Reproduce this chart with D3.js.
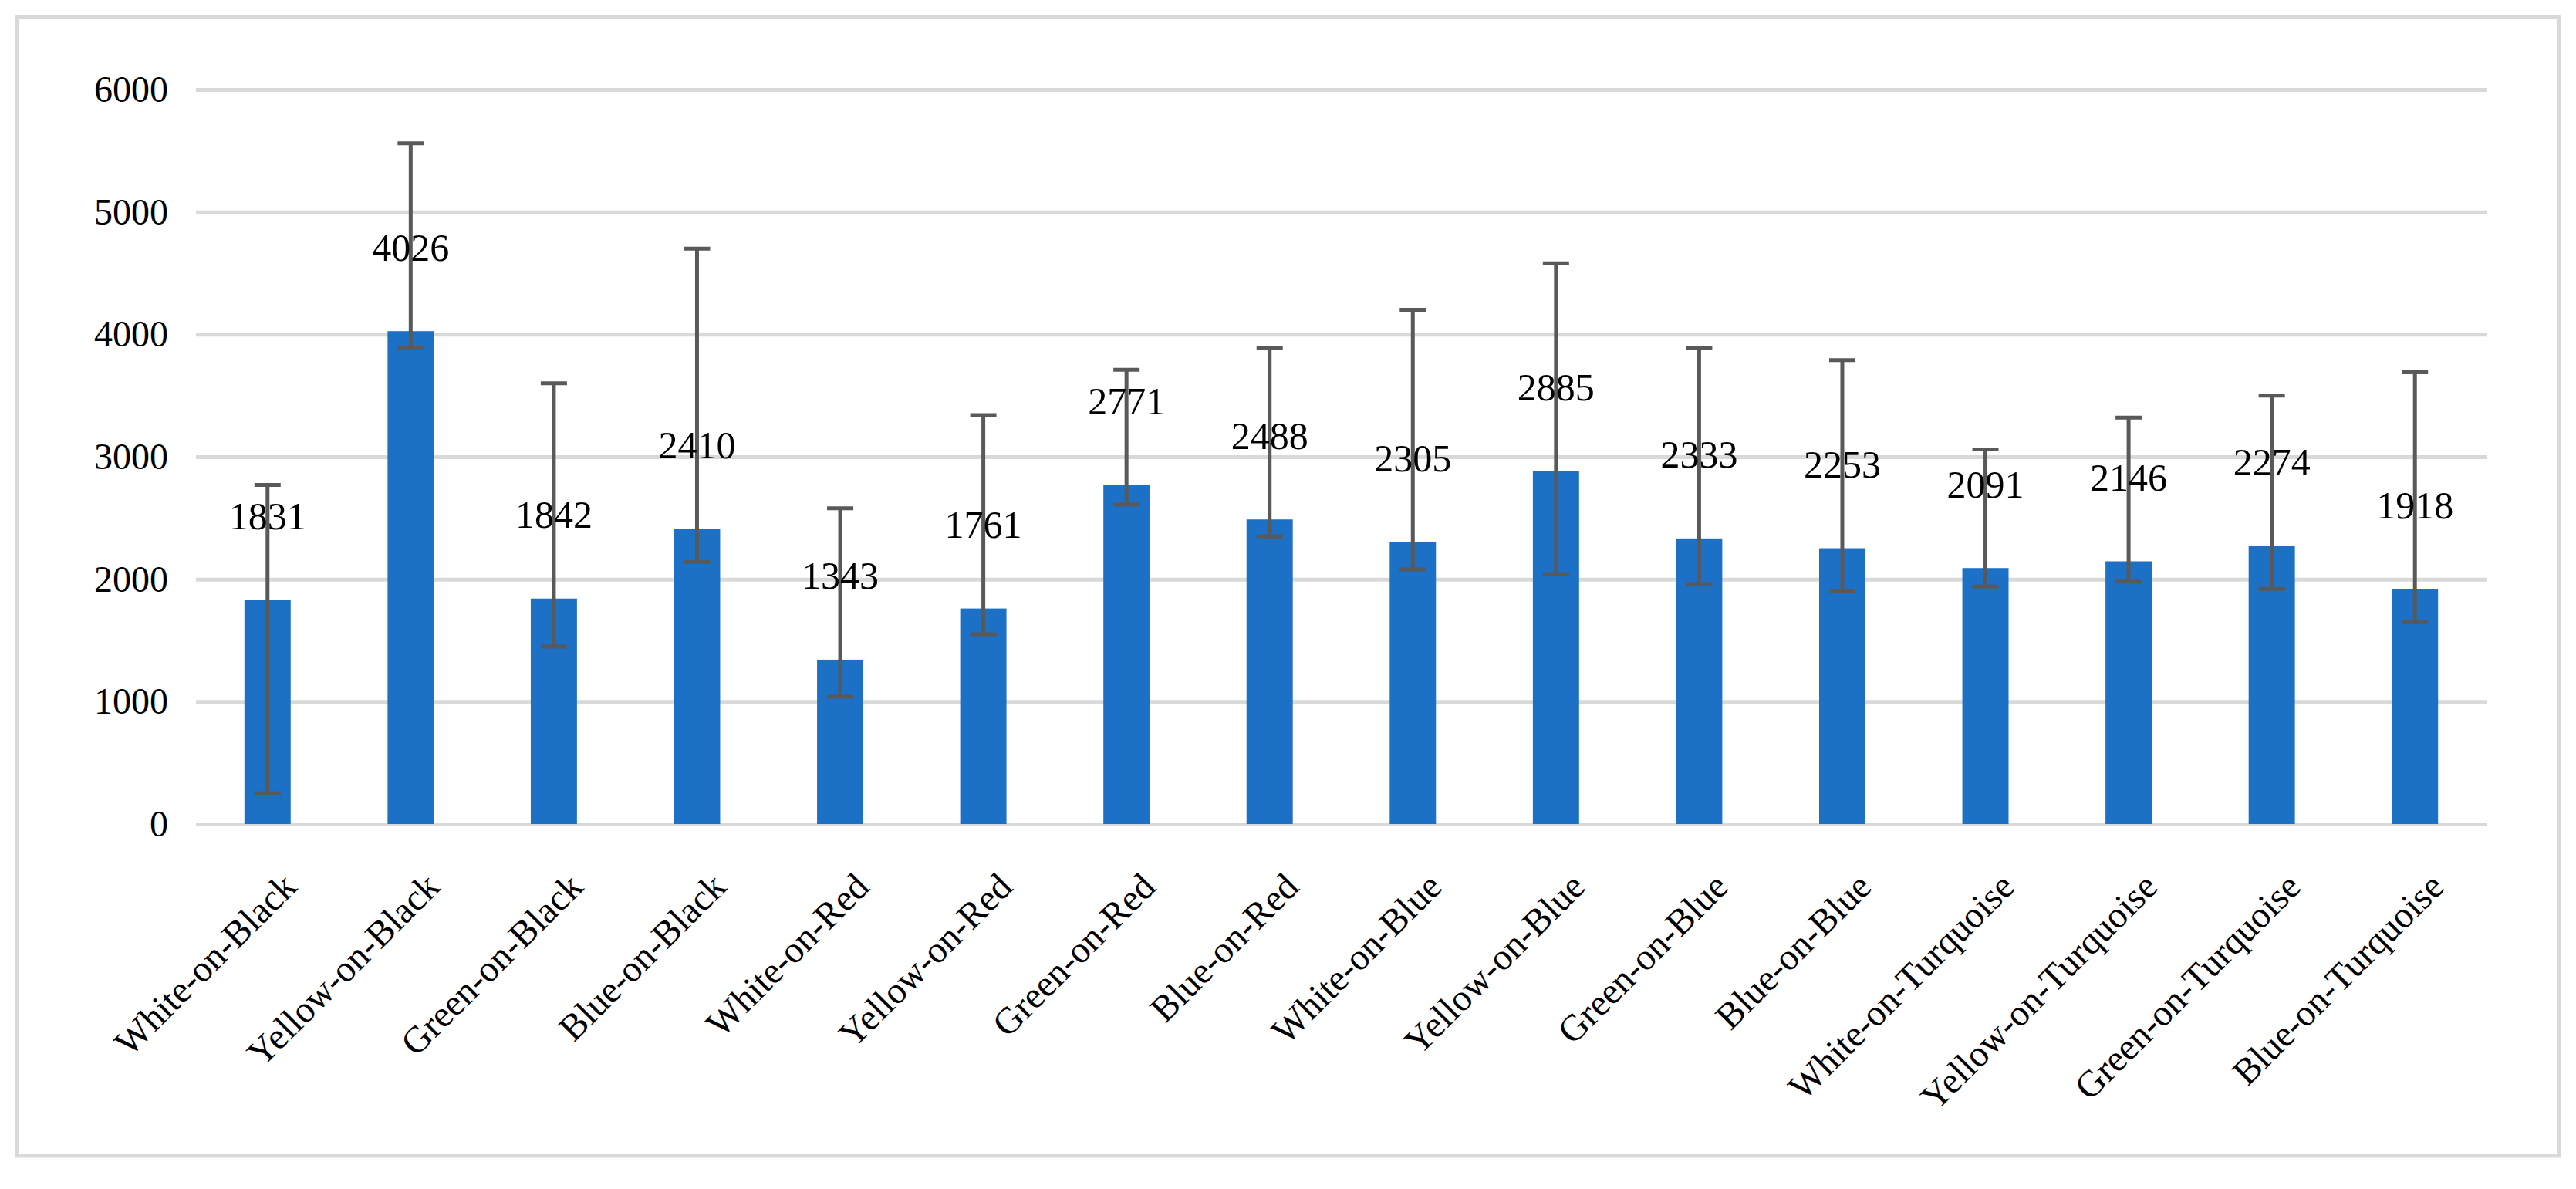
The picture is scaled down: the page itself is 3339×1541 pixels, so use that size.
<!DOCTYPE html>
<html>
<head>
<meta charset="utf-8">
<script src="https://cdn.jsdelivr.net/npm/d3@7"></script>
<style>
  html, body { margin: 0; padding: 0; background: #ffffff; }
  svg { display: block; }
  text { font-family: "Liberation Serif", "Times New Roman", serif; fill: #000000; }
</style>
</head>
<body>
<svg id="chart" width="3339" height="1541"></svg>
<script>
// chart values
const categories = [
    "White-on-Black", "Yellow-on-Black", "Green-on-Black", "Blue-on-Black",
    "White-on-Red", "Yellow-on-Red", "Green-on-Red", "Blue-on-Red",
    "White-on-Blue", "Yellow-on-Blue", "Green-on-Blue", "Blue-on-Blue",
    "White-on-Turquoise", "Yellow-on-Turquoise", "Green-on-Turquoise", "Blue-on-Turquoise"
];
const means = [1831, 4026, 1842, 2410, 1343, 1761, 2771, 2488, 2305, 2885, 2333, 2253, 2091, 2146, 2274, 1918];
const errUpper = [2770, 5560, 3600, 4700, 2580, 3340, 3710, 3890, 4200, 4580, 3890, 3790, 3060, 3320, 3500, 3690];
const errLower = [250, 3890, 1450, 2140, 1040, 1550, 2610, 2350, 2080, 2040, 1960, 1900, 1940, 1980, 1920, 1650];
const yTicks = [0, 1000, 2000, 3000, 4000, 5000, 6000];

const chart = {
    svg: null,
    left: 254,
    right: 3223,
    top: 116,
    bottom: 1068,

    init: function() {
        this.svg = d3.select("#chart");

        // outer frame
        this.svg.append("rect")
            .attr("x", 22).attr("y", 22)
            .attr("width", 3295).attr("height", 1476)
            .attr("fill", "#ffffff")
            .attr("stroke", "#d9d9d9")
            .attr("stroke-width", 5);

        this.x = d3.scaleBand()
            .domain(categories)
            .range([this.left, this.right])
            .paddingInner(0.677)
            .paddingOuter(0.3385);

        this.y = d3.scaleLinear()
            .domain([0, 6000])
            .range([this.bottom, this.top]);

        this.drawYAxis();
        this.drawBars();
        this.drawErrorBars();
        this.drawLabels();
        this.drawXAxis();
    },

    drawYAxis: function() {
        const g = this.svg.append("g")
            .attr("transform", "translate(" + this.left + ",0)")
            .call(d3.axisLeft(this.y)
                .tickValues(yTicks)
                .tickSize(-(this.right - this.left))
                .tickPadding(36)
                .tickFormat(d3.format("d")));
        g.select(".domain").remove();
        g.selectAll(".tick line")
            .attr("stroke", "#d9d9d9")
            .attr("stroke-width", 5);
        g.selectAll(".tick text")
            .attr("font-size", "48px")
            .attr("font-family", "Liberation Serif")
            .attr("fill", "#000000");
    },

    drawBars: function() {
        const x = this.x, y = this.y;
        this.svg.append("g").selectAll("rect")
            .data(means)
            .enter()
            .append("rect")
            .attr("x", (d, i) => x(categories[i]))
            .attr("y", d => y(d))
            .attr("width", x.bandwidth())
            .attr("height", d => y(0) - y(d))
            .attr("fill", "#1c71c6");
    },

    drawErrorBars: function() {
        const x = this.x, y = this.y;
        const cx = i => x(categories[i]) + x.bandwidth() / 2;
        const capW = 34;
        const g = this.svg.append("g")
            .attr("stroke", "#595959")
            .attr("stroke-width", 5);

        g.selectAll(".stem")
            .data(means)
            .enter()
            .append("line")
            .attr("x1", (d, i) => cx(i)).attr("x2", (d, i) => cx(i))
            .attr("y1", (d, i) => y(errLower[i]))
            .attr("y2", (d, i) => y(errUpper[i]));

        g.selectAll(".capTop")
            .data(errUpper)
            .enter()
            .append("line")
            .attr("x1", (d, i) => cx(i) - capW / 2).attr("x2", (d, i) => cx(i) + capW / 2)
            .attr("y1", d => y(d)).attr("y2", d => y(d));

        g.selectAll(".capBottom")
            .data(errLower)
            .enter()
            .append("line")
            .attr("x1", (d, i) => cx(i) - capW / 2).attr("x2", (d, i) => cx(i) + capW / 2)
            .attr("y1", d => y(d)).attr("y2", d => y(d));
    },

    // value labels sit a fixed distance above each bar
    drawLabels: function() {
        const x = this.x, y = this.y;
        this.svg.append("g").selectAll("text")
            .data(means)
            .enter()
            .append("text")
            .attr("x", (d, i) => x(categories[i]) + x.bandwidth() / 2)
            .attr("y", d => y(d) - 109)
            .attr("dy", "0.35em")
            .attr("text-anchor", "middle")
            .attr("font-size", "50px")
            .text(d => d);
    },

    drawXAxis: function() {
        const g = this.svg.append("g")
            .attr("transform", "translate(0," + this.bottom + ")")
            .call(d3.axisBottom(this.x).tickSize(0).tickPadding(0));
        g.select(".domain").remove();
        g.selectAll(".tick text")
            .attr("font-size", "48px")
            .attr("font-family", "Liberation Serif")
            .attr("fill", "#000000")
            .attr("text-anchor", "end")
            .attr("dy", null)
            .attr("y", null)
            .attr("transform", "translate(40,84) rotate(-45)");
    }
};

window.onload = function() {
    chart.init();
};
</script>
</body>
</html>
